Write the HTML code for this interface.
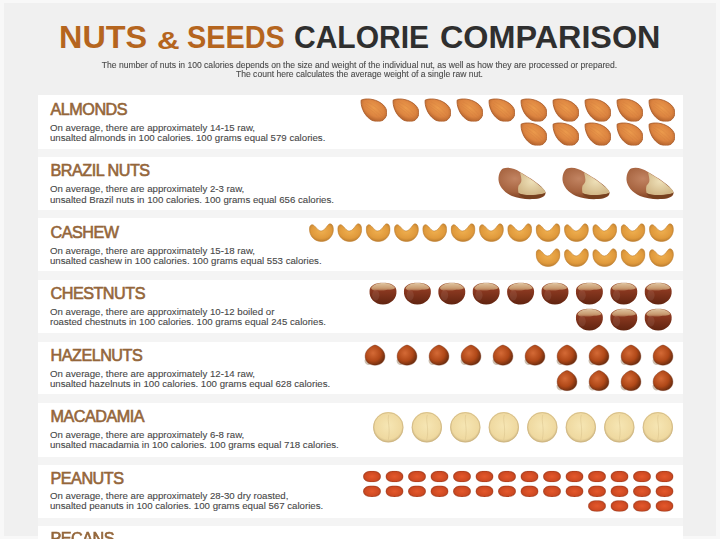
<!DOCTYPE html>
<html><head><meta charset="utf-8">
<style>
html,body{margin:0;padding:0;}
body{width:720px;height:539px;overflow:hidden;position:relative;background:#f8f8f8;font-family:"Liberation Sans",sans-serif;}
.page{position:absolute;left:3.5px;top:3px;width:712.5px;height:533px;background:#f0f0f0;}
.tw{position:absolute;top:16.6px;font-weight:bold;font-size:32px;line-height:40px;white-space:nowrap;transform-origin:0 0;}
.o{color:#b5651e;}
.k{color:#2f2f2f;}
.sub{position:absolute;left:0;top:60.5px;width:719px;text-align:center;font-size:8.57px;line-height:9.7px;color:#4a4a4a;-webkit-text-stroke:0.1px #4a4a4a;white-space:nowrap;}
.card{position:absolute;left:38px;width:645px;background:#fff;}
.gap{position:absolute;left:38px;width:645px;background:#f4f4f4;}
.h{position:absolute;left:50.5px;font-size:16.2px;line-height:20px;font-weight:normal;color:#94663a;white-space:nowrap;-webkit-text-stroke:0.6px #94663a;letter-spacing:-0.5px;}
.d{position:absolute;left:50px;font-size:9.66px;line-height:11px;color:#474747;white-space:nowrap;-webkit-text-stroke:0.1px #474747;}
svg.nuts{position:absolute;left:0;top:0;}
.wrap{position:absolute;left:0;top:0;width:720px;height:539px;overflow:hidden;filter:blur(0.45px);}
</style></head><body>
<div class="wrap">
<div class="page"></div>
<div class="tw o" style="left:59px;transform:scaleX(1.012)">NUTS</div>
<div class="tw o" style="left:156.7px;top:20.6px;font-size:23.6px;transform:scaleX(1.33)">&amp;</div>
<div class="tw o" style="left:187.1px;transform:scaleX(0.902)">SEEDS</div>
<div class="tw k" style="left:293.9px;transform:scaleX(0.938)">CALORIE</div>
<div class="tw k" style="left:439.6px;transform:scaleX(1.011)">COMPARISON</div>
<div class="sub"><span class="m">The number of nuts in 100 calories depends on the size and weight of the individual nut, as well as how they are processed or prepared.</span><br><span class="m">The count here calculates the average weight of a single raw nut.</span></div>
<div class="card" style="top:95px;height:54px"></div><div class="gap" style="top:149px;height:8px"></div><div class="h m" style="top:98.90px">ALMONDS</div><div class="d m" style="top:121.90px">On average, there are approximately 14-15 raw,</div><div class="d m" style="top:132.30px">unsalted almonds in 100 calories. 100 grams equal 579 calories.</div><div class="card" style="top:157px;height:53px"></div><div class="gap" style="top:210px;height:8px"></div><div class="h m" style="top:160.40px">BRAZIL NUTS</div><div class="d m" style="top:183.30px">On average, there are approximately 2-3 raw,</div><div class="d m" style="top:193.60px">unsalted Brazil nuts in 100 calories. 100 grams equal 656 calories.</div><div class="card" style="top:218px;height:53px"></div><div class="gap" style="top:271px;height:9px"></div><div class="h m" style="top:221.90px">CASHEW</div><div class="d m" style="top:244.70px">On average, there are approximately 15-18 raw,</div><div class="d m" style="top:254.90px">unsalted cashew in 100 calories. 100 grams equal 553 calories.</div><div class="card" style="top:280px;height:53px"></div><div class="gap" style="top:333px;height:9px"></div><div class="h m" style="top:283.40px">CHESTNUTS</div><div class="d m" style="top:306.10px">On average, there are approximately 10-12 boiled or</div><div class="d m" style="top:316.20px">roasted chestnuts in 100 calories. 100 grams equal 245 calories.</div><div class="card" style="top:342px;height:52px"></div><div class="gap" style="top:394px;height:9px"></div><div class="h m" style="top:344.90px">HAZELNUTS</div><div class="d m" style="top:367.50px">On average, there are approximately 12-14 raw,</div><div class="d m" style="top:377.50px">unsalted hazelnuts in 100 calories. 100 grams equal 628 calories.</div><div class="card" style="top:403px;height:54px"></div><div class="gap" style="top:457px;height:8px"></div><div class="h m" style="top:406.40px">MACADAMIA</div><div class="d m" style="top:428.90px">On average, there are approximately 6-8 raw,</div><div class="d m" style="top:438.80px">unsalted macadamia in 100 calories. 100 grams equal 718 calories.</div><div class="card" style="top:465px;height:53px"></div><div class="gap" style="top:518px;height:8px"></div><div class="h m" style="top:467.90px">PEANUTS</div><div class="d m" style="top:490.30px">On average, there are approximately 28-30 dry roasted,</div><div class="d m" style="top:500.10px">unsalted peanuts in 100 calories. 100 grams equal 567 calories.</div><div class="card" style="top:526px;height:74px"></div><div class="h m" style="top:528.40px">PECANS</div>
<svg class="nuts" width="720" height="539" viewBox="0 0 720 539">

<defs>
 <radialGradient id="gAl" cx="50%" cy="42%" r="62%">
  <stop offset="0" stop-color="#eb9a4c"/><stop offset="0.6" stop-color="#dc8440"/><stop offset="1" stop-color="#ae5e2a"/>
 </radialGradient>
 <radialGradient id="gBr" cx="35%" cy="35%" r="60%">
  <stop offset="0" stop-color="#c28462"/><stop offset="0.7" stop-color="#a5623e"/><stop offset="1" stop-color="#844626"/>
 </radialGradient>
 <radialGradient id="gCr" cx="50%" cy="40%" r="60%">
  <stop offset="0" stop-color="#eee0b8"/><stop offset="1" stop-color="#d2b888"/>
 </radialGradient>
 <radialGradient id="gCa" cx="50%" cy="40%" r="60%">
  <stop offset="0" stop-color="#f0b050"/><stop offset="0.7" stop-color="#e09a3c"/><stop offset="1" stop-color="#bc7e30"/>
 </radialGradient>
 <radialGradient id="gCh" cx="40%" cy="55%" r="60%">
  <stop offset="0" stop-color="#9a4020"/><stop offset="0.7" stop-color="#7a2e14"/><stop offset="1" stop-color="#5a2010"/>
 </radialGradient>
 <linearGradient id="gCh2" x1="0" y1="0" x2="0" y2="1">
  <stop offset="0" stop-color="#a05834"/><stop offset="0.35" stop-color="#8a3820"/><stop offset="1" stop-color="#602410"/>
 </linearGradient>
 <linearGradient id="gChC" x1="0" y1="0" x2="0" y2="1">
  <stop offset="0" stop-color="#e0c4a0"/><stop offset="0.7" stop-color="#c89a70"/><stop offset="1" stop-color="#a86848"/>
 </linearGradient>
 <radialGradient id="gChH" cx="30%" cy="60%" r="55%">
  <stop offset="0" stop-color="#ffffff" stop-opacity="0.18"/><stop offset="1" stop-color="#000000" stop-opacity="0.12"/>
 </radialGradient>
 <radialGradient id="gHz" cx="40%" cy="40%" r="60%">
  <stop offset="0" stop-color="#d46a36"/><stop offset="0.65" stop-color="#b04818"/><stop offset="1" stop-color="#743010"/>
 </radialGradient>
 <radialGradient id="gMc" cx="50%" cy="45%" r="55%">
  <stop offset="0" stop-color="#f6e6b4"/><stop offset="0.8" stop-color="#efd9a0"/><stop offset="1" stop-color="#cdb582"/>
 </radialGradient>
 <radialGradient id="gPn" cx="50%" cy="50%" r="55%">
  <stop offset="0" stop-color="#e4582c"/><stop offset="0.7" stop-color="#cf4a22"/><stop offset="1" stop-color="#a83c1c"/>
 </radialGradient>
 <symbol id="almond" viewBox="0 0 27 24">
  <g transform="translate(13.3,12) rotate(36) scale(0.97)">
   <path d="M-15.8,-0.5 C-13.5,-4.5 -6,-10 3,-10 C10,-10 15,-6 15,0 C15,6 10,10 3,10 C-6,10 -13.5,3.8 -15.8,-0.5 Z" fill="url(#gAl)" stroke="#a85a28" stroke-width="0.8"/>
   <path d="M-10,-2.5 C-3,-4 5,-3.5 11,-1.5 M-9,2 C-2,1.5 6,2.5 11.5,3.5 M-11,0 C-3,-0.5 5,0 12,1" fill="none" stroke="#c8763a" stroke-width="0.6" opacity="0.35"/>
  </g>
 </symbol>
 <symbol id="brazil" viewBox="0 0 48 33">
  <path d="M5,1.5 C10,-0.5 17,1.5 22,5 C32,11 44,18 47.5,25 C48,29 44,31.5 36,32 C28,32.5 20,31.5 14,29 C6,25.5 1,19 0.5,13 C0.3,8 2,3.5 5,1.5 Z" fill="url(#gBr)"/>
  <path d="M22,5.2 C30,10 40,16.5 46.5,23 L47.5,25.8 C44,27.3 40,27.8 35,28 C29,28.2 24,27.8 20.6,26 C19.8,23 20,20.5 20.6,18.6 C22.2,17 23.6,15.5 23.4,12.8 C23.2,10 22.6,7.8 22,5.2 Z" fill="url(#gCr)"/>
  <path d="M20.5,26.2 C25,28.8 37,29 47.2,26.2 C45.5,29.8 40.5,31.5 34,32 C28,32.3 23,30.5 20.5,26.2 Z" fill="#74401f" opacity="0.9"/>
 </symbol>
 <symbol id="cashew" viewBox="0 0 25 19">
  <path d="M0.5,7 C0.3,4 1,2 2.8,1.5 C4.5,1.2 6,3.2 7.8,5.2 C9.2,6.8 10.6,7.8 12.2,7.8 C14.6,7.8 16.6,5 18.6,2.3 C19.6,0.9 20.6,0.3 21.6,0.6 C23.6,1.2 24.6,4 24.3,7.5 C23.6,13.5 19,18.3 12.5,18.3 C6,18.3 1,13.5 0.5,7 Z" fill="url(#gCa)" stroke="#c08030" stroke-width="0.6"/>
 </symbol>
 <symbol id="chestnut" viewBox="0 0 28 22">
  <path d="M1,8.5 C1,3 7,0.5 14,0.5 C21,0.5 27,3 27,8.5 C27.5,15.5 22,21.5 14,21.5 C6,21.5 0.5,15.5 1,8.5 Z" fill="url(#gCh2)"/>
  <path d="M2.5,5.5 C5,1.8 10,0.7 14,0.7 C18.5,0.7 23.5,2 25.8,5.5 C23,7.8 19,6.8 16,7.6 C12.5,8.4 9,7.2 6,7.8 C4.5,8 3.2,7 2.5,5.5 Z" fill="url(#gChC)"/>
  <ellipse cx="7" cy="12.5" rx="3.5" ry="5" fill="#ffffff" opacity="0.08"/>
 </symbol>
 <symbol id="hazel" viewBox="0 0 22 22">
  <path d="M0.8,15.5 C-0.2,19 2.5,21.5 6,20.8 L3.5,15 Z" fill="#cdbfb0"/>
  <path d="M11,1 C14,1.6 20.6,5.2 20.9,11.8 C21.2,17.8 16.5,21.2 11,21.2 C5.5,21.2 0.8,17.8 1.1,11.8 C1.4,5.2 8,1.6 11,1 Z" fill="url(#gHz)" stroke="#6e3018" stroke-width="0.6" stroke-opacity="0.6"/>
 </symbol>
 <symbol id="maca" viewBox="0 0 31 31">
  <circle cx="15.5" cy="15.5" r="15.2" fill="url(#gMc)"/>
  <circle cx="15.5" cy="15.5" r="14.7" fill="none" stroke="#cdb582" stroke-width="1" opacity="0.7"/>
  <path d="M16,3 C14,9 18,15 15.5,28" fill="none" stroke="#d8c08a" stroke-width="0.8" opacity="0.6"/>
 </symbol>
 <symbol id="peanut" viewBox="0 0 18 11.5">
  <path d="M0.3,5.75 C0.5,2 4,0.2 9,0.2 C14,0.2 17.5,2 17.7,5.75 C17.5,9.5 14,11.3 9,11.3 C4,11.3 0.5,9.5 0.3,5.75 Z" fill="url(#gPn)" stroke="#9a3a1e" stroke-width="0.6" stroke-opacity="0.7"/>
 </symbol>
</defs>

<use href="#almond" x="360.0" y="97.5" width="27" height="24"/>
<use href="#almond" x="392.0" y="97.5" width="27" height="24"/>
<use href="#almond" x="424.0" y="97.5" width="27" height="24"/>
<use href="#almond" x="456.0" y="97.5" width="27" height="24"/>
<use href="#almond" x="488.0" y="97.5" width="27" height="24"/>
<use href="#almond" x="520.0" y="97.5" width="27" height="24"/>
<use href="#almond" x="552.0" y="97.5" width="27" height="24"/>
<use href="#almond" x="584.0" y="97.5" width="27" height="24"/>
<use href="#almond" x="616.0" y="97.5" width="27" height="24"/>
<use href="#almond" x="648.0" y="97.5" width="27" height="24"/>
<use href="#almond" x="520.0" y="121.5" width="27" height="24"/>
<use href="#almond" x="552.0" y="121.5" width="27" height="24"/>
<use href="#almond" x="584.0" y="121.5" width="27" height="24"/>
<use href="#almond" x="616.0" y="121.5" width="27" height="24"/>
<use href="#almond" x="648.0" y="121.5" width="27" height="24"/><use href="#brazil" x="498.0" y="167.0" width="48" height="33"/>
<use href="#brazil" x="562.0" y="167.0" width="48" height="33"/>
<use href="#brazil" x="626.0" y="167.0" width="48" height="33"/><use href="#cashew" x="309.0" y="223.2" width="25" height="19"/>
<use href="#cashew" x="337.3" y="223.2" width="25" height="19"/>
<use href="#cashew" x="365.7" y="223.2" width="25" height="19"/>
<use href="#cashew" x="394.0" y="223.2" width="25" height="19"/>
<use href="#cashew" x="422.3" y="223.2" width="25" height="19"/>
<use href="#cashew" x="450.6" y="223.2" width="25" height="19"/>
<use href="#cashew" x="479.0" y="223.2" width="25" height="19"/>
<use href="#cashew" x="507.3" y="223.2" width="25" height="19"/>
<use href="#cashew" x="535.6" y="223.2" width="25" height="19"/>
<use href="#cashew" x="564.0" y="223.2" width="25" height="19"/>
<use href="#cashew" x="592.3" y="223.2" width="25" height="19"/>
<use href="#cashew" x="620.6" y="223.2" width="25" height="19"/>
<use href="#cashew" x="649.0" y="223.2" width="25" height="19"/>
<use href="#cashew" x="535.6" y="248.2" width="25" height="19"/>
<use href="#cashew" x="564.0" y="248.2" width="25" height="19"/>
<use href="#cashew" x="592.3" y="248.2" width="25" height="19"/>
<use href="#cashew" x="620.6" y="248.2" width="25" height="19"/>
<use href="#cashew" x="649.0" y="248.2" width="25" height="19"/><use href="#chestnut" x="368.5" y="282.3" width="29" height="22.8"/>
<use href="#chestnut" x="402.9" y="282.3" width="29" height="22.8"/>
<use href="#chestnut" x="437.3" y="282.3" width="29" height="22.8"/>
<use href="#chestnut" x="471.7" y="282.3" width="29" height="22.8"/>
<use href="#chestnut" x="506.1" y="282.3" width="29" height="22.8"/>
<use href="#chestnut" x="540.5" y="282.3" width="29" height="22.8"/>
<use href="#chestnut" x="574.9" y="282.3" width="29" height="22.8"/>
<use href="#chestnut" x="609.3" y="282.3" width="29" height="22.8"/>
<use href="#chestnut" x="643.7" y="282.3" width="29" height="22.8"/>
<use href="#chestnut" x="574.9" y="308.3" width="29" height="22.8"/>
<use href="#chestnut" x="609.3" y="308.3" width="29" height="22.8"/>
<use href="#chestnut" x="643.7" y="308.3" width="29" height="22.8"/><use href="#hazel" x="364.0" y="344.0" width="22" height="22"/>
<use href="#hazel" x="396.0" y="344.0" width="22" height="22"/>
<use href="#hazel" x="428.0" y="344.0" width="22" height="22"/>
<use href="#hazel" x="460.0" y="344.0" width="22" height="22"/>
<use href="#hazel" x="492.0" y="344.0" width="22" height="22"/>
<use href="#hazel" x="524.0" y="344.0" width="22" height="22"/>
<use href="#hazel" x="556.0" y="344.0" width="22" height="22"/>
<use href="#hazel" x="588.0" y="344.0" width="22" height="22"/>
<use href="#hazel" x="620.0" y="344.0" width="22" height="22"/>
<use href="#hazel" x="652.0" y="344.0" width="22" height="22"/>
<use href="#hazel" x="556.0" y="369.5" width="22" height="22"/>
<use href="#hazel" x="588.0" y="369.5" width="22" height="22"/>
<use href="#hazel" x="620.0" y="369.5" width="22" height="22"/>
<use href="#hazel" x="652.0" y="369.5" width="22" height="22"/><use href="#maca" x="372.8" y="411.8" width="31" height="31"/>
<use href="#maca" x="411.3" y="411.8" width="31" height="31"/>
<use href="#maca" x="449.8" y="411.8" width="31" height="31"/>
<use href="#maca" x="488.3" y="411.8" width="31" height="31"/>
<use href="#maca" x="526.8" y="411.8" width="31" height="31"/>
<use href="#maca" x="565.3" y="411.8" width="31" height="31"/>
<use href="#maca" x="603.8" y="411.8" width="31" height="31"/>
<use href="#maca" x="642.3" y="411.8" width="31" height="31"/><use href="#peanut" x="363.0" y="470.8" width="18" height="11.5"/>
<use href="#peanut" x="385.5" y="470.8" width="18" height="11.5"/>
<use href="#peanut" x="408.0" y="470.8" width="18" height="11.5"/>
<use href="#peanut" x="430.5" y="470.8" width="18" height="11.5"/>
<use href="#peanut" x="453.0" y="470.8" width="18" height="11.5"/>
<use href="#peanut" x="475.5" y="470.8" width="18" height="11.5"/>
<use href="#peanut" x="498.0" y="470.8" width="18" height="11.5"/>
<use href="#peanut" x="520.5" y="470.8" width="18" height="11.5"/>
<use href="#peanut" x="543.0" y="470.8" width="18" height="11.5"/>
<use href="#peanut" x="565.5" y="470.8" width="18" height="11.5"/>
<use href="#peanut" x="588.0" y="470.8" width="18" height="11.5"/>
<use href="#peanut" x="610.5" y="470.8" width="18" height="11.5"/>
<use href="#peanut" x="633.0" y="470.8" width="18" height="11.5"/>
<use href="#peanut" x="655.5" y="470.8" width="18" height="11.5"/>
<use href="#peanut" x="363.0" y="485.6" width="18" height="11.5"/>
<use href="#peanut" x="385.5" y="485.6" width="18" height="11.5"/>
<use href="#peanut" x="408.0" y="485.6" width="18" height="11.5"/>
<use href="#peanut" x="430.5" y="485.6" width="18" height="11.5"/>
<use href="#peanut" x="453.0" y="485.6" width="18" height="11.5"/>
<use href="#peanut" x="475.5" y="485.6" width="18" height="11.5"/>
<use href="#peanut" x="498.0" y="485.6" width="18" height="11.5"/>
<use href="#peanut" x="520.5" y="485.6" width="18" height="11.5"/>
<use href="#peanut" x="543.0" y="485.6" width="18" height="11.5"/>
<use href="#peanut" x="565.5" y="485.6" width="18" height="11.5"/>
<use href="#peanut" x="588.0" y="485.6" width="18" height="11.5"/>
<use href="#peanut" x="610.5" y="485.6" width="18" height="11.5"/>
<use href="#peanut" x="633.0" y="485.6" width="18" height="11.5"/>
<use href="#peanut" x="655.5" y="485.6" width="18" height="11.5"/>
<use href="#peanut" x="588.0" y="500.2" width="18" height="11.5"/>
<use href="#peanut" x="610.5" y="500.2" width="18" height="11.5"/>
<use href="#peanut" x="633.0" y="500.2" width="18" height="11.5"/>
<use href="#peanut" x="655.5" y="500.2" width="18" height="11.5"/>
</svg>
</div>
</body></html>
